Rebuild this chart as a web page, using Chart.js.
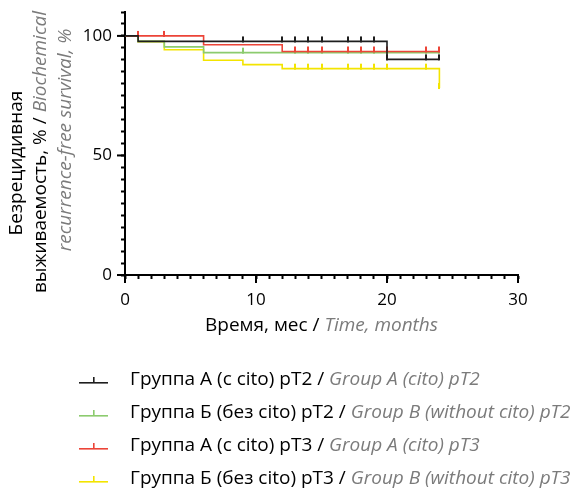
<!DOCTYPE html>
<html>
<head>
<meta charset="utf-8">
<script src="https://cdn.jsdelivr.net/npm/chart.js@4"></script>
<style>
  html, body { margin: 0; padding: 0; background: #fff; }
  #wrap { width: 574px; height: 498px; position: relative; }
</style>
</head>
<body>
<div id="wrap"><canvas id="chart" width="574" height="498"></canvas></div>
<script>
/* ===== DATA ===== */
const seriesNames = ["Группа А (с cito) pT2", "Группа Б (без cito) pT2", "Группа А (с cito) pT3", "Группа Б (без cito) pT3"];
const seriesNamesEn = ["Group A (cito) pT2", "Group B (without cito) pT2", "Group A (cito) pT3", "Group B (without cito) pT3"];
const seriesColors = ["#1e1e1e", "#8ccb6e", "#ec4438", "#f3e400"];

// step points (month, survival %)
const stepA2 = [[0, 100], [1, 97.7], [20, 90.2], [24, 90.2]];
const stepB2 = [[0, 100], [1, 97.7], [3, 95.4], [6, 93.0], [24, 93.0]];
const stepA3 = [[0, 100], [6, 96.3], [12, 93.5], [24, 93.5]];
const stepB3 = [[0, 100], [1, 97.6], [3, 94.2], [6, 89.8], [9, 88.0], [12, 86.3], [24, 78.2]];

// censored observations (month, survival %)
const censA2 = [[9, 97.7], [12, 97.7], [13, 97.7], [14, 97.7], [15, 97.7], [17, 97.7], [18, 97.7], [19, 97.7], [20, 90.2], [23, 90.2], [24, 90.2]];
const censB2 = [[9, 93.0], [13, 93.0], [14, 93.0], [15, 93.0], [17, 93.0], [18, 93.0], [19, 93.0], [20, 93.0], [23, 93.0], [24, 93.0]];
const censA3 = [[1, 100], [3, 100], [13, 93.5], [14, 93.5], [15, 93.5], [17, 93.5], [18, 93.5], [19, 93.5], [20, 93.5], [23, 93.5], [24, 93.5]];
const censB3 = [[13, 86.3], [14, 86.3], [15, 86.3], [17, 86.3], [18, 86.3], [19, 86.3], [20, 86.3], [23, 86.3], [24, 78.2]];

const xTicksMajor = [0, 10, 20, 30];
const yTicksMajor = [0, 50, 100];

const FONT = "'Open Sans', sans-serif";
const TXT = 19;   // titles + legend
const GRAY = "#7b7b7b";

/* ===== HELPERS ===== */
function pts(arr) {
  return arr.map(p => ({ x: p[0], y: p[1] }));
}

function tickMark(color) {
  const c = document.createElement("canvas");
  c.width = 2;
  c.height = 12;
  const g = c.getContext("2d");
  g.fillStyle = color;
  g.fillRect(0, 1, 2, 6);
  return c;
}

const steps = [stepA2, stepB2, stepA3, stepB3];
const cens = [censA2, censB2, censA3, censB3];
const drawOrder = [0, 2, 1, 3];

const datasets = [];
steps.forEach((s, i) => {
  datasets.push({
    data: pts(s),
    borderColor: seriesColors[i],
    borderWidth: 1.6,
    stepped: true,
    pointRadius: 0,
    fill: false,
    order: drawOrder[i]
  });
  datasets.push({
    data: pts(cens[i]),
    showLine: false,
    pointStyle: tickMark(seriesColors[i]),
    pointRadius: 6,
    order: drawOrder[i]
  });
});

/* ===== EXTRA DRAWING: major ticks, titles, legend ===== */
function mixedWidth(ctx, parts) {
  let w = 0;
  parts.forEach(p => {
    ctx.font = (p[1] ? "italic " : "") + TXT + "px " + FONT;
    w += ctx.measureText(p[0]).width;
  });
  return w;
}

function mixedText(ctx, parts, x, y) {
  parts.forEach(p => {
    ctx.font = (p[1] ? "italic " : "") + TXT + "px " + FONT;
    ctx.fillStyle = p[1] ? GRAY : "#000";
    ctx.fillText(p[0], x, y);
    x += ctx.measureText(p[0]).width;
  });
}

const extras = {
  id: "extras",
  afterDraw(chart) {
    const ctx = chart.ctx;
    const xs = chart.scales.x, ys = chart.scales.y;
    ctx.save();
    ctx.fillStyle = "#000";
    // longer major ticks
    xTicksMajor.forEach(v => {
      const px = xs.getPixelForValue(v);
      ctx.fillRect(px - 1, ys.bottom, 2, 8);
    });
    yTicksMajor.forEach(v => {
      const py = ys.getPixelForValue(v);
      ctx.fillRect(xs.left - 8, py - 1, 8, 2);
    });

    ctx.textBaseline = "middle";

    // x title
    const xt = [["Время, мес / ", false], ["Time, months", true]];
    const cx = (xs.left + xs.right) / 2;
    mixedText(ctx, xt, cx - mixedWidth(ctx, xt) / 2, 326);

    // y title (three rotated lines)
    const yLines = [
      { x: 17, cy: 163, parts: [["Безрецидивная", false]] },
      { x: 41, cy: 152, parts: [["выживаемость, % / ", false], ["Biochemical", true]] },
      { x: 66, cy: 140, parts: [["recurrence-free survival, %", true]] }
    ];
    yLines.forEach(line => {
      const total = mixedWidth(ctx, line.parts);
      ctx.save();
      ctx.translate(line.x, line.cy);
      ctx.rotate(-Math.PI / 2);
      mixedText(ctx, line.parts, -total / 2, 0);
      ctx.restore();
    });

    // legend
    const rowY = [380, 413, 446, 479];
    seriesNames.forEach((name, i) => {
      const y = rowY[i];
      ctx.fillStyle = seriesColors[i];
      ctx.fillRect(79, y + 2, 29, 1.6);
      ctx.fillRect(93, y - 3, 1.6, 5);
      mixedText(ctx, [[name + " / ", false], [seriesNamesEn[i], true]], 130, y);
    });
    ctx.restore();
  }
};

/* ===== CHART ===== */
window.addEventListener("DOMContentLoaded", () => {
  const ctx = document.getElementById("chart").getContext("2d");
  new Chart(ctx, {
    type: "line",
    data: { datasets },
    options: {
      responsive: false,
      animation: false,
      layout: { padding: { left: 0, top: 12, right: 56, bottom: 0 } },
      plugins: { legend: { display: false }, tooltip: { enabled: false } },
      scales: {
        x: {
          type: "linear",
          min: 0,
          max: 30,
          afterFit(scale) {
            scale.height = 498 - 275;
            scale.paddingLeft = 0;
            scale.paddingRight = 0;
          },
          border: { color: "#000", width: 2 },
          grid: { drawOnChartArea: false, tickLength: 4, tickColor: "#000", tickWidth: 2 },
          ticks: {
            stepSize: 1,
            autoSkip: false,
            maxRotation: 0,
            padding: 11,
            color: "#000",
            font: { family: FONT, size: 17 },
            callback: v => (xTicksMajor.includes(v) ? String(v) : "")
          }
        },
        y: {
          min: 0,
          max: 110,
          afterFit(scale) {
            scale.width = 125;
            scale.paddingTop = 0;
            scale.paddingBottom = 0;
          },
          border: { color: "#000", width: 2 },
          grid: { drawOnChartArea: false, tickLength: 4, tickColor: "#000", tickWidth: 2 },
          ticks: {
            stepSize: 5,
            autoSkip: false,
            padding: 9,
            color: "#000",
            font: { family: FONT, size: 17 },
            callback: v => (yTicksMajor.includes(v) ? String(v) : "")
          }
        }
      }
    },
    plugins: [extras]
  });
});
</script>
</body>
</html>
